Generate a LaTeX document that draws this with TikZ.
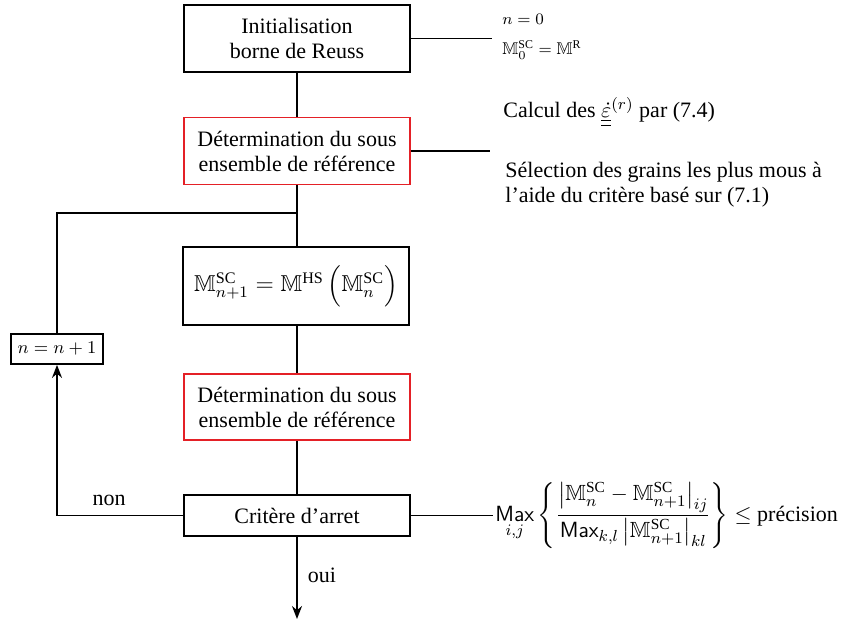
\documentclass[tikz,border=0pt]{standalone}
\usepackage{amsmath,amssymb}
\usepackage{fontspec}
\setmainfont{Liberation Serif}
\usetikzlibrary{arrows.meta}
\definecolor{boxred}{RGB}{228,32,38}
\begin{document}
\begin{tikzpicture}[x=0.5pt,y=-0.5pt,
  box/.style={draw=black, line width=0.9pt, minimum width=113pt, inner sep=0pt, align=center, font=\fontsize{11}{12.5}\selectfont, fill=white},
  redbox/.style={box, draw=boxred},
  conn/.style={line width=0.9pt},
  arr/.style={conn, -{Stealth[length=6.5pt,width=5pt]}},
  lbl/.style={font=\fontsize{11}{12.5}\selectfont, inner sep=0pt},
]
\useasboundingbox (0,0) rectangle (841,620);

\node[box, minimum height=33.5pt] (init) at (297,38.5) {Initialisation\\borne de Reuss};
\node[redbox, minimum height=33.5pt] (det1) at (297,151) {Détermination du sous\\ensemble de référence};
\node[box, minimum height=39pt, font=\fontsize{11.5}{13}\selectfont] (hs) at (296,286) {$\mathbb{M}^{\mathrm{SC}}_{n+1}=\mathbb{M}^{\mathrm{HS}}\,\Bigl(\mathbb{M}^{\mathrm{SC}}_{n}\Bigr)$};
\node[redbox, minimum height=33pt] (det2) at (297,407) {Détermination du sous\\ensemble de référence};
\node[box, minimum height=20.5pt] (crit) at (297,515.5) {Critère d'arret};
\node[box, minimum width=46pt, minimum height=15pt, font=\fontsize{9.5}{11}\selectfont] (incr) at (57,349) {$n=n+1$};

\coordinate (initend) at (492,38.5);
\coordinate (det1end) at (490,151);
\coordinate (critend) at (493,515.5);
\coordinate (merge) at (297,213);
\coordinate (stop) at (297,619);

\draw[conn] (init.east) -- (initend);
\draw[conn] (init.south) -- (det1.north);
\draw[conn] (det1.east) -- (det1end);
\draw[conn] (det1.south) -- (det1.south |- hs.north);
\draw[conn] (incr.north) |- (merge);
\draw[conn] (hs.south -| det2.north) -- (det2.north);
\draw[conn] (det2.south) -- (crit.north);
\draw[conn] (crit.east) -- (critend);
\draw[arr] (crit.west) -| (incr.south);
\draw[arr] (crit.south) -- (stop);

\node[lbl] (non) at (109,500) {non};
\node[lbl] (oui) at (322,575) {oui};
\node[lbl, anchor=west, align=left, font=\fontsize{8.5}{10}\selectfont] (init0) at (502,37) {$n=0$\\[5pt]$\mathbb{M}^{\mathrm{SC}}_0=\mathbb{M}^{\mathrm{R}}$};
\node[lbl, anchor=west] (calc) at (503,112) {Calcul des $\underline{\underline{\dot{\varepsilon}}}^{(r)}$ par (7.4)};
\node[lbl, anchor=west, align=left] (sel) at (505,185) {Sélection des grains les plus mous à\\l'aide du critère basé sur (7.1)};
\node[lbl, anchor=west] (form) at (495,515.5) {$\displaystyle \mathop{\mathsf{Max}}_{i,j}\left\{\frac{\left|\mathbb{M}^{\mathrm{SC}}_n-\mathbb{M}^{\mathrm{SC}}_{n+1}\right|_{ij}}{\mathsf{Max}_{k,l}\left|\mathbb{M}^{\mathrm{SC}}_{n+1}\right|_{kl}}\right\}\le$ précision};
\end{tikzpicture}
\end{document}
